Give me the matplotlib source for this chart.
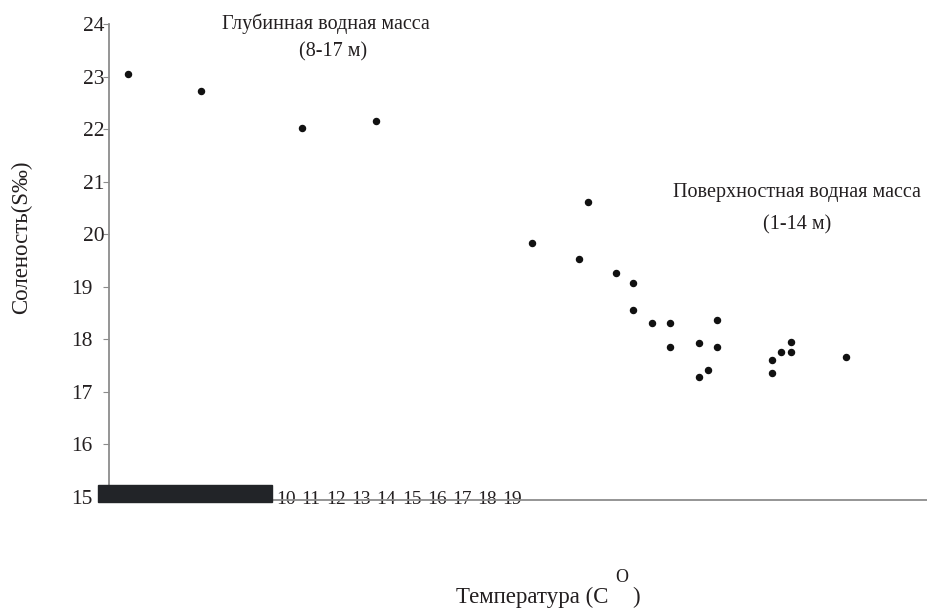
import numpy as np
import matplotlib.pyplot as plt
from matplotlib.patches import Rectangle

plt.rcParams['font.family'] = ['Liberation Serif', 'DejaVu Serif']

TEXT_COLOR = '#231f20'
AXIS_COLOR = '#8c8c8c'

# Глубинная водная масса (8-17 м)
deep_temp = [0.69, 3.37, 7.09, 9.78]
deep_sal = [23.04, 22.72, 22.03, 22.15]

# Поверхностная водная масса (1-14 м)
surf_temp = [17.58, 15.52, 17.24, 18.58, 19.23, 19.23, 19.92, 20.58,
             22.28, 20.58, 21.64, 22.28, 21.64, 21.95, 24.31, 24.31,
             24.64, 25.00, 25.00, 27.03]
surf_sal = [20.62, 19.84, 19.53, 19.26, 19.07, 18.56, 18.31, 18.31,
            18.37, 17.85, 17.93, 17.85, 17.28, 17.42, 17.61, 17.35,
            17.75, 17.75, 17.94, 17.67]

y_ticks = [15, 16, 17, 18, 19, 20, 21, 22, 23, 24]
x_tick_labels = ['10', '11', '12', '13', '14', '15', '16', '17', '18', '19']

W, H = 927, 610


def fx(px):
    return px / W


def fy(py):
    return 1 - py / H


fig = plt.figure(figsize=(9.27, 6.10), dpi=100)
ax = fig.add_axes([fx(109), fy(499.5), fx(927) - fx(109), fy(24) - fy(499.5)])

ax.scatter(deep_temp, deep_sal, s=19, color='#111111', zorder=3)
ax.scatter(surf_temp, surf_sal, s=19, color='#111111', zorder=3)

ax.set_xlim(0, 30)
ax.set_ylim(14.95, 24)

for side in ['top', 'right']:
    ax.spines[side].set_visible(False)
for side in ['left', 'bottom']:
    ax.spines[side].set_color(AXIS_COLOR)
    ax.spines[side].set_linewidth(1.3)

# y axis
ax.set_yticks(y_ticks)
ax.tick_params(axis='y', length=4.5, width=0.8, color=AXIS_COLOR,
               labelsize=15.5, labelcolor=TEXT_COLOR)
for val, tick in zip(y_ticks, ax.yaxis.get_major_ticks()):
    tick.set_pad(-1.5 if val >= 20 else 7.5)

# x axis: labels sit on the axis line
x_tick_pos = 6.48 + 0.924 * np.arange(len(x_tick_labels))
ax.set_xticks(x_tick_pos, x_tick_labels)
ax.tick_params(axis='x', length=0, pad=0, labelsize=14, labelcolor=TEXT_COLOR)
for lbl in ax.get_xticklabels():
    lbl.set_va('center')

# dark bar over the start of the x axis
ax.add_patch(Rectangle((-0.4, 14.905), 6.38, 0.323, color='#222428',
                       clip_on=False, zorder=5))

# annotations
fig.text(fx(326), fy(24), 'Глубинная водная масса', ha='center', va='center',
         fontsize=14.5, color=TEXT_COLOR)
fig.text(fx(333), fy(52), '(8-17 м)', ha='center', va='center',
         fontsize=14.5, color=TEXT_COLOR)
fig.text(fx(796.5), fy(192), 'Поверхностная водная масса', ha='center', va='center',
         fontsize=14.5, color=TEXT_COLOR)
fig.text(fx(797), fy(225), '(1-14 м)', ha='center', va='center',
         fontsize=14.5, color=TEXT_COLOR)

# axis titles
fig.text(fx(21.7), fy(237.5), 'Соленость(S‰)', rotation=90, ha='center', va='center',
         fontsize=16.5, color=TEXT_COLOR)
fig.text(fx(608), fy(597), 'Температура (С', ha='right', va='center',
         fontsize=16.5, color=TEXT_COLOR)
fig.text(fx(622), fy(578), 'O', ha='center', va='center',
         fontsize=13, color=TEXT_COLOR)
fig.text(fx(632), fy(597), ')', ha='left', va='center',
         fontsize=16.5, color=TEXT_COLOR)

plt.savefig('out.png', dpi=100)
plt.close()
